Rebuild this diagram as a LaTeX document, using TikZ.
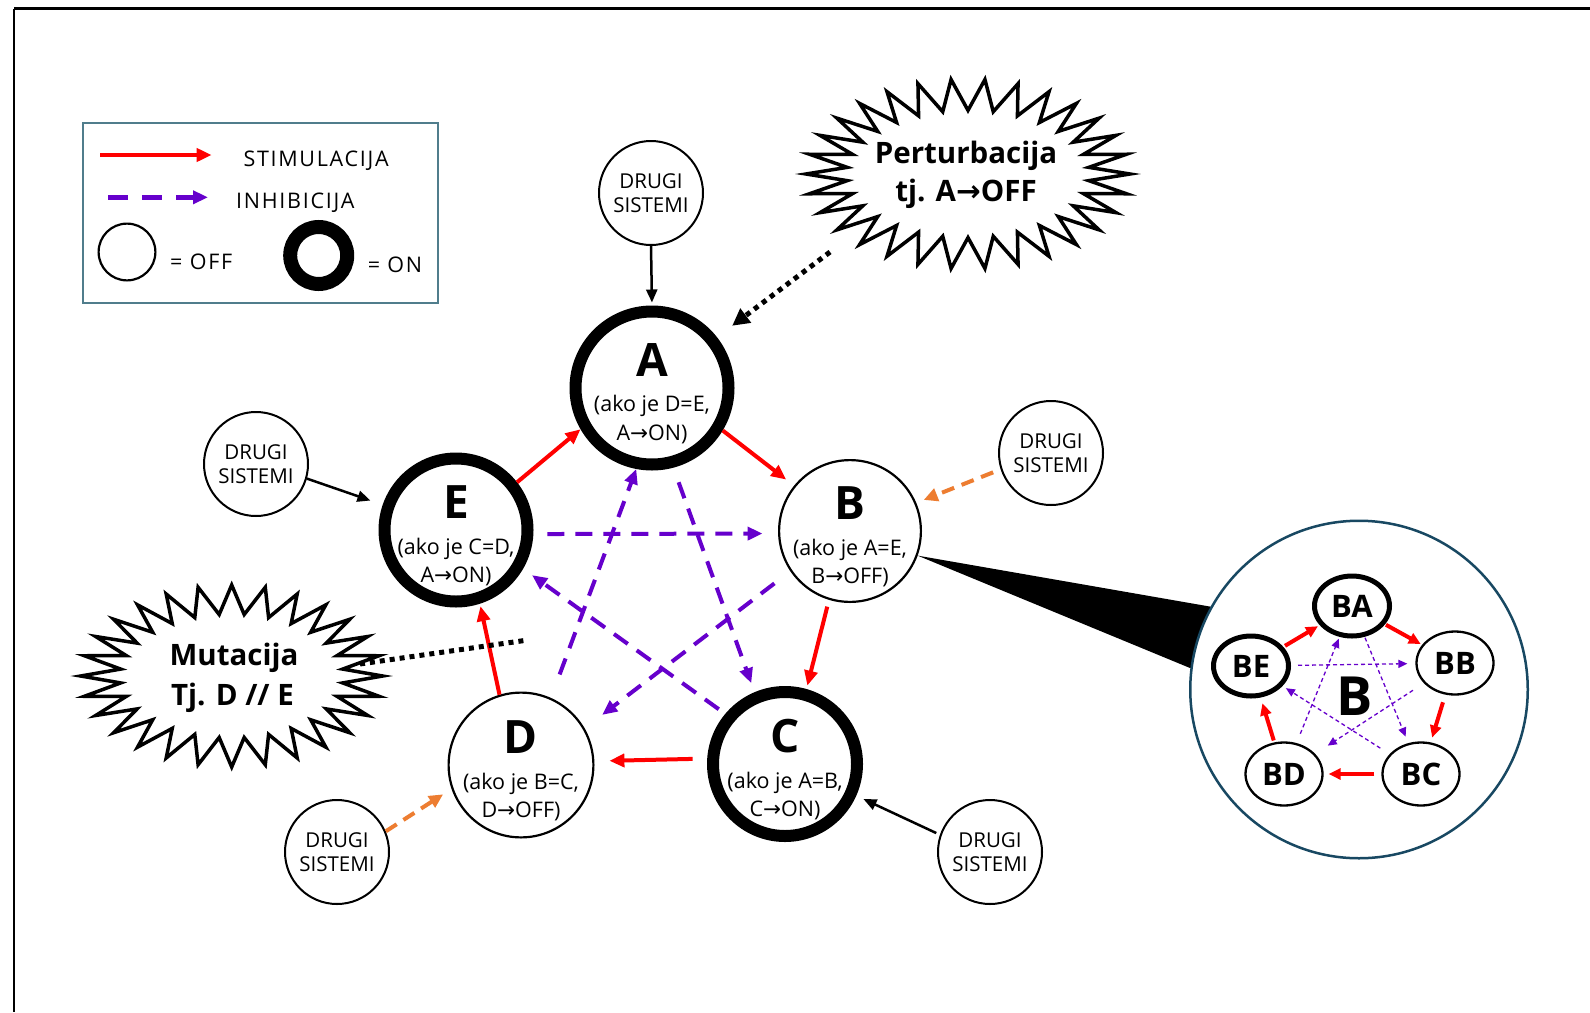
\documentclass[tikz,border=0pt]{standalone}
\usepackage{fontspec}
\setmainfont{Open Sans}
\newfontfamily\arr{DejaVu Sans}
\usetikzlibrary{arrows.meta,calc,shapes.geometric}
\definecolor{stim}{RGB}{255,0,0}
\definecolor{inh}{RGB}{102,0,204}
\definecolor{ora}{RGB}{237,125,49}
\definecolor{legb}{RGB}{80,125,140}
\definecolor{zoomb}{RGB}{24,72,98}
\newcommand{\rarr}{{\arr →}}
\begin{document}
\begin{tikzpicture}[x=1pt,y=-1pt,
  offnode/.style={circle,draw,line width=2.2pt,fill=white,inner sep=0pt},
  onnode/.style={circle,draw,line width=12pt,fill=white,inner sep=0pt},
  drugi/.style={circle,draw,line width=2pt,fill=white,inner sep=0pt,minimum size=104pt,align=center,font=\fontsize{20.5}{24.5}\selectfont},
  bigl/.style={anchor=base,inner sep=0pt,font=\bfseries\fontsize{46}{46}\selectfont},
  subt/.style={anchor=base,inner sep=0pt,font=\fontsize{21.5}{24}\selectfont},
  stimarrow/.style={draw=stim,line width=4pt,-{Triangle[length=15pt,width=13pt]}},
  inharrow/.style={draw=inh,line width=4pt,dash pattern=on 17pt off 11pt,-{Triangle[length=15pt,width=13pt]}},
  blackarrow/.style={draw=black,line width=2.5pt,-{Triangle[length=13pt,width=11pt]}},
  orarrow/.style={draw=ora,line width=4pt,dash pattern=on 13pt off 8pt,-{Triangle[length=14pt,width=13pt]}},
  dotline/.style={draw=black,line width=5pt,dash pattern=on 5pt off 5pt},
  bursttext/.style={anchor=base,inner sep=0pt,font=\bfseries\fontsize{29.5}{30}\selectfont},
  legtext/.style={anchor=base west,inner sep=0pt,font=\fontsize{21.5}{24}\selectfont\addfontfeature{LetterSpace=8}},
  ellon/.style={ellipse,draw,line width=5pt,fill=white,minimum width=75pt,minimum height=60pt,inner sep=0pt,font=\bfseries\fontsize{31}{31}\selectfont},
  elloff/.style={ellipse,draw,line width=2.3pt,fill=white,minimum width=77pt,minimum height=63pt,inner sep=0pt,font=\bfseries\fontsize{31}{31}\selectfont},
  istim/.style={draw=stim,line width=4pt,-{Triangle[length=12pt,width=11pt]}},
  iinh/.style={draw=inh,line width=1.3pt,dash pattern=on 4pt off 3pt,-{Triangle[length=9pt,width=8pt]}}
]
\useasboundingbox (0,0) rectangle (1590,1012);
\fill[white] (0,0) rectangle (1590,1012);
% frame
\draw[line width=3pt] (14,8.7) -- (1590,8.7);
\draw[line width=2pt] (14,8.7) -- (14,1012);

% legend
\node[draw=legb,line width=2pt,minimum width=355pt,minimum height=179.4pt,inner sep=0pt] (leg) at (260.8,213) {};
\coordinate (ls1) at (100,155); \coordinate (ls2) at (211.7,155);
\draw[stimarrow] (ls1) -- (ls2);
\coordinate (li1) at (108,197.3); \coordinate (li2) at (208,197.3);
\draw[draw=inh,line width=5pt,dash pattern=on 20pt off 14pt,-{Triangle[length=15pt,width=13pt]}] (li1) -- (li2);
\node[legtext] (lt1) at (243.3,166.7) {STIMULACIJA};
\node[legtext] (lt2) at (236,208.3) {INHIBICIJA};
\node[offnode,minimum size=56.8pt] (loff) at (127,252) {};
\node[legtext] (lt3) at (170,269.3) {= OFF};
\node[circle,draw,line width=14pt,fill=white,inner sep=0pt,minimum size=57pt] (lon) at (318.7,255.5) {};
\node[legtext] (lt4) at (367.7,272.7) {= ON};

% starbursts
\draw[line width=3.5pt,fill=white,line join=miter,miter limit=20]
  ({968+162},174) \foreach \i in {1,...,59} { -- ({968+162*(1-0.25*mod(\i,2))*cos(\i*6)},{174+95*(1-0.33*mod(\i,2))*sin(\i*6)}) } -- cycle;
\node[bursttext] (pt1) at (966,163.3) {Perturbacija};
\node[bursttext] (pt2) at (966,201.7) {tj. A{\arr\bfseries →}OFF};
\draw[line width=3.5pt,fill=white,line join=miter,miter limit=20]
  ({231.7+151},676) \foreach \i in {1,...,55} { -- ({231.7+151*(1-0.26*mod(\i,2))*cos(\i*6.42857)},{676+91*(1-0.32*mod(\i,2))*sin(\i*6.42857)}) } -- cycle;
\node[bursttext] (mt1) at (234,665) {Mutacija};
\node[bursttext] (mt2) at (232.5,705) {Tj. D // E};

% main nodes
\node[onnode,minimum size=153pt] (A) at (652,388) {};
\node[offnode,minimum size=141.8pt] (B) at (850,531) {};
\node[onnode,minimum size=144pt] (C) at (785,764) {};
\node[offnode,minimum size=144.8pt] (D) at (521,765) {};
\node[onnode,minimum size=143pt] (E) at (456,530) {};

\node[bigl] (At) at ($(A)+(0,-11.3)$) {A};
\node[subt] (As1) at ($(A)+(0,23)$) {(ako je D=E,};
\node[subt] (As2) at ($(A)+(0,52)$) {A\rarr ON)};
\node[bigl] (Bt) at ($(B)+(0,-11.5)$) {B};
\node[subt] (Bs1) at ($(B)+(0,24)$) {(ako je A=E,};
\node[subt] (Bs2) at ($(B)+(0,52)$) {B\rarr OFF)};
\node[bigl] (Ct) at ($(C)+(0,-11.5)$) {C};
\node[subt] (Cs1) at ($(C)+(0,24)$) {(ako je A=B,};
\node[subt] (Cs2) at ($(C)+(0,52)$) {C\rarr ON)};
\node[bigl] (Dt) at ($(D)+(0,-11.5)$) {D};
\node[subt] (Ds1) at ($(D)+(0,24)$) {(ako je B=C,};
\node[subt] (Ds2) at ($(D)+(0,52)$) {D\rarr OFF)};
\node[bigl] (Et) at ($(E)+(0,-11.5)$) {E};
\node[subt] (Es1) at ($(E)+(0,24)$) {(ako je C=D,};
\node[subt] (Es2) at ($(E)+(0,52)$) {A\rarr ON)};

% other systems
\node[drugi] (DA) at (651,193) {DRUGI\\SISTEMI};
\node[drugi] (DE) at (256,464) {DRUGI\\SISTEMI};
\node[drugi] (DB) at (1051,453) {DRUGI\\SISTEMI};
\node[drugi] (DD) at (337,852) {DRUGI\\SISTEMI};
\node[drugi] (DC) at (990,852) {DRUGI\\SISTEMI};

% stimulation
\draw[stimarrow] (E.38) -- (A.210.6);
\draw[stimarrow,shorten >=10pt] (A.-31) -- (B.141);
\draw[stimarrow,shorten <=7pt,shorten >=3.5pt] (B.-107.7) -- (C.74.3);
\draw[stimarrow,shorten <=14.6pt,shorten >=15pt] (C.176.5) -- (D.3.7);
\draw[stimarrow,shorten >=2.5pt] (D.107) -- (E.-72.8);

% inhibition
\draw[inharrow,shorten <=14pt,shorten >=15.5pt] (E.-3) -- (B.182);
\draw[inharrow,shorten <=25pt] (D.66.9) -- (A.-101.2);
\draw[inharrow,shorten <=15.5pt,shorten >=9.6pt] (A.-75) -- (C.113.3);
\draw[inharrow,shorten <=20pt,shorten >=22pt] (B.-146.2) -- (D.30.2);
\draw[inharrow,shorten <=8pt,shorten >=11pt] (C.140.5) -- (E.-30.5);

% external inputs
\draw[blackarrow,shorten >=3pt] (DA.south) -- (A.north);
\draw[blackarrow,shorten >=13pt] (DE.-16.5) -- (E.161.4);
\draw[orarrow,shorten <=8pt,shorten >=8pt] (DB.198.9) -- (B.23.7);
\draw[orarrow,shorten >=10pt] (DD.23.5) -- (D.199.5);
\draw[blackarrow,shorten <=4pt,shorten >=8pt] (DC.161.6) -- (C.-24.8);

% perturbation & mutation pointers
\coordinate (pstart) at (830,252);
\draw[dotline,-{Triangle[length=17pt,width=17pt]},shorten >=19pt] (pstart) -- (A.38.2);
\coordinate (mstart) at (360,664);
\coordinate (mend) at (528,640);
\draw[dotline] (mstart) -- (mend);

% zoom of B
\coordinate (wt) at (1240,611.8);
\coordinate (wb) at (1230,684.5);
\fill[black] (B.-20) -- (wt) -- (wb) -- cycle;
\node[circle,draw=zoomb,line width=2.5pt,fill=white,minimum size=337.5pt,inner sep=0pt] (Z) at (1359,689.5) {};
\node[inner sep=0pt,font=\bfseries\fontsize{54}{54}\selectfont] (ZB) at (1355,696) {B};
\node[ellon] (BA) at (1352,606) {BA};
\node[elloff] (BB) at (1455,663) {BB};
\node[elloff] (BC) at (1421,774) {BC};
\node[elloff] (BD) at (1284,774) {BD};
\node[ellon] (BE) at (1251,666) {BE};

\draw[istim,shorten <=2pt,shorten >=2pt] (BE) -- (BA);
\draw[istim,shorten <=1pt,shorten >=1.5pt] (BA) -- (BB);
\draw[istim,shorten <=8pt,shorten >=5pt] (BB) -- (BC);
\draw[istim,shorten <=7pt,shorten >=5pt] (BC) -- (BD);
\draw[istim,shorten <=2pt,shorten >=6pt] (BD) -- (BE);

\draw[iinh,shorten <=7pt,shorten >=8pt] (BE) -- (BB);
\draw[iinh,shorten <=10pt,shorten >=2pt] (BD) -- (BA);
\draw[iinh,shorten <=1pt,shorten >=7pt] (BA) -- (BC);
\draw[iinh,shorten <=13pt,shorten >=15pt] (BB) -- (BD);
\draw[iinh,shorten <=11pt,shorten >=4pt] (BC) -- (BE);
\end{tikzpicture}
\end{document}
